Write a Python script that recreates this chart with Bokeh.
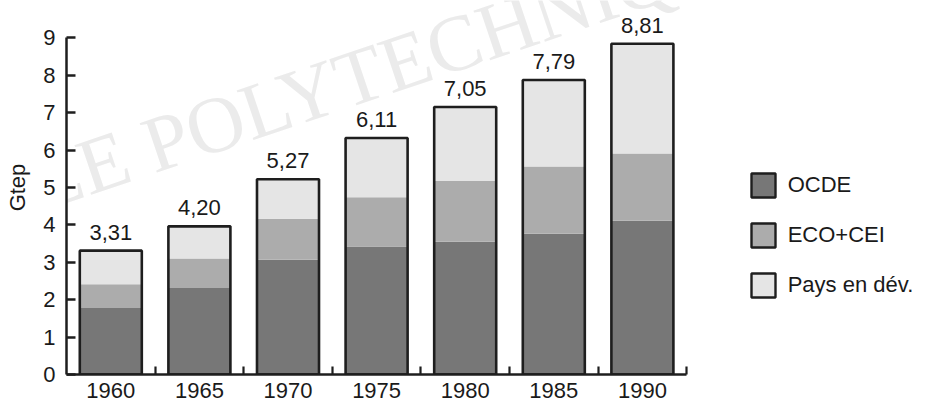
from bokeh.plotting import figure
from bokeh.models import ColumnDataSource, Range1d, FixedTicker, Legend, LegendItem, Label
from bokeh.core.properties import value
from bokeh.embed import file_html
from bokeh.resources import INLINE

# ---- data ----
years = [1960, 1965, 1970, 1975, 1980, 1985, 1990]
ocde = [1.78, 2.31, 3.07, 3.42, 3.55, 3.76, 4.11]
eco_cei = [0.63, 0.79, 1.09, 1.32, 1.62, 1.80, 1.80]
pays_dev = [0.90, 0.86, 1.06, 1.58, 1.98, 2.31, 2.93]
total_labels = ["3,31", "4,20", "5,27", "6,11", "7,05", "7,79", "8,81"]
series_names = ["OCDE", "ECO+CEI", "Pays en dév."]
y_ticks = [0, 1, 2, 3, 4, 5, 6, 7, 8, 9]

colors = ["#777777", "#acacac", "#e5e5e5"]
edge = "#1e1e1e"
FONT = "Liberation Sans"

totals = [a + b + c for a, b, c in zip(ocde, eco_cei, pays_dev)]
source = ColumnDataSource(dict(year=years, OCDE=ocde, ECO=eco_cei, PAYS=pays_dev,
                               total=totals, lab=total_labels))

W, H = 930, 404
left = 66
bottom_border = 30
frame_bottom = H - bottom_border
px_per_year = 17.72
x0 = years[0] - 2.5
x_end = x0 + (W - left) / px_per_year
px_per_unit = (frame_bottom - 37.3) / 9
y_end = frame_bottom / px_per_unit

p = figure(width=W, height=H, output_backend="svg", toolbar_location=None,
           x_range=Range1d(x0, x_end), y_range=Range1d(0, y_end),
           min_border_left=left, min_border_right=0, min_border_top=0,
           min_border_bottom=bottom_border)
p.outline_line_color = None
p.xgrid.visible = False
p.ygrid.visible = False
p.background_fill_color = "white"

# watermark (behind everything)
wm_sx, wm_sy = -118, 236
wm_x = x0 + (wm_sx - left) / px_per_year
wm_y = (frame_bottom - wm_sy) / px_per_unit
p.add_layout(Label(x=wm_x, y=wm_y, text="ÉCOLE POLYTECHNIQUE", angle=0.325,
                   text_font="Liberation Serif", text_font_size="80px",
                   text_baseline="alphabetic", text_align="left",
                   text_color="#ebebeb", level="underlay"))

bar_w = 3.5
p.vbar_stack(["OCDE", "ECO", "PAYS"], x="year", width=bar_w, source=source,
             fill_color=colors, line_color=None)
p.vbar(x="year", top="total", bottom=0, width=bar_w, source=source,
       fill_color=None, line_color=edge, line_width=2.6)

p.text(x="year", y="total", text="lab", source=source, y_offset=-11,
       text_align="center", text_baseline="bottom",
       text_font=value(FONT), text_font_size="22px", text_color="#1a1a1a")

# legend proxies (NaN rows: nothing drawn in the plot)
nan = float("nan")
items = []
for name, c in zip(series_names, colors):
    r = p.vbar(x=[nan], top=[nan], width=bar_w, fill_color=c, line_color=edge, line_width=2.4)
    items.append(LegendItem(label=name, renderers=[r]))
legend = Legend(items=items, location=(681.7, frame_bottom + 1 - 301.2), orientation="vertical",
                glyph_width=30, glyph_height=30, label_height=30, spacing=20,
                label_standoff=10, padding=0, margin=0,
                label_text_font=FONT, label_text_font_size="22px",
                label_text_color="#1a1a1a", border_line_color=None,
                background_fill_alpha=0)
p.add_layout(legend)

# y axis
ya = p.yaxis[0]
ya.ticker = FixedTicker(ticks=y_ticks, minor_ticks=[])
ya.bounds = (0, 9)
ya.axis_label = "Gtep"
ya.axis_label_text_font = FONT
ya.axis_label_text_font_size = "22px"
ya.axis_label_text_font_style = "normal"
ya.axis_label_text_color = "#1a1a1a"
ya.axis_label_standoff = 10
ya.major_label_text_font = FONT
ya.major_label_text_font_size = "22px"
ya.major_label_text_color = "#1a1a1a"
ya.major_label_standoff = 11
ya.major_tick_in = 9
ya.major_tick_out = 0
ya.minor_tick_in = 0
ya.minor_tick_out = 0
ya.axis_line_width = 2.5
ya.axis_line_color = edge
ya.major_tick_line_width = 2.5
ya.major_tick_line_color = edge

# x axis
xa = p.xaxis[0]
xa.ticker = FixedTicker(ticks=years, minor_ticks=[y + 2.5 for y in years])
xa.bounds = (x0, years[-1] + 2.5)
xa.major_label_text_font = FONT
xa.major_label_text_font_size = "22px"
xa.major_label_text_color = "#1a1a1a"
xa.major_label_standoff = 8
xa.major_tick_in = 0
xa.major_tick_out = 0
xa.minor_tick_in = 8
xa.minor_tick_out = 0
xa.minor_tick_line_width = 2.2
xa.minor_tick_line_color = edge
xa.axis_line_width = 2.5
xa.axis_line_color = edge

open("out.html", "w").write(file_html(p, INLINE))
